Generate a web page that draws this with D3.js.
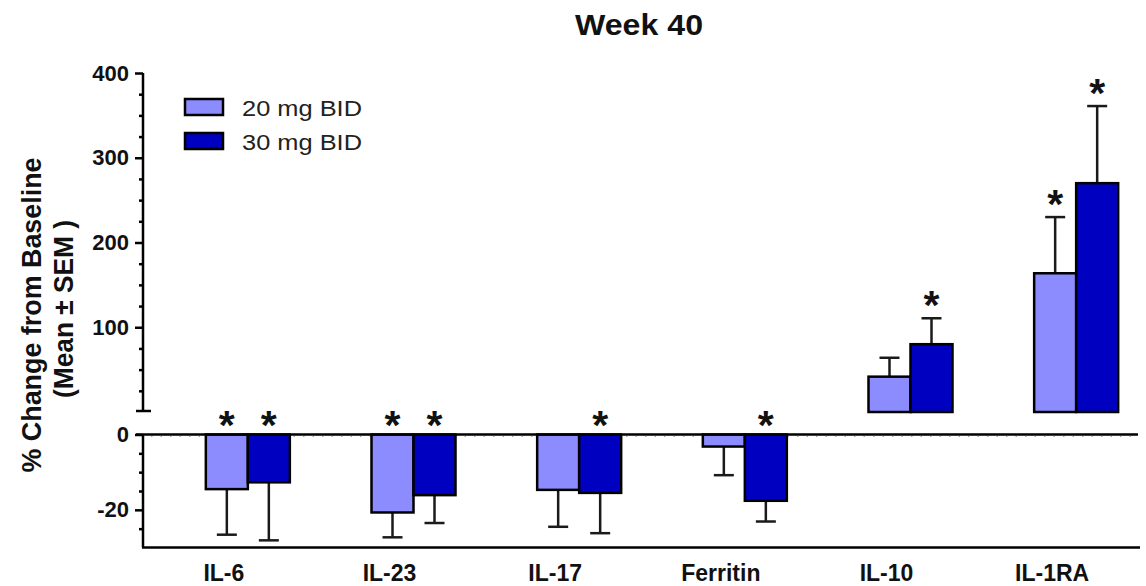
<!DOCTYPE html>
<html>
<head>
<meta charset="utf-8">
<script src="https://cdn.jsdelivr.net/npm/d3@7"></script>
<style>
  body { margin: 0; background: #fff; }
  svg { display: block; font-family: "Liberation Sans", Arial, sans-serif; }
</style>
</head>
<body>
<div id="chart"></div>
<script>
// values (% change from baseline)
const categories = ["IL-6", "IL-23", "IL-17", "Ferritin", "IL-10", "IL-1RA"];
const seriesNames = ["20 mg BID", "30 mg BID"];
const mean20 = [-14.5, -20.7, -14.7, -3.2, 41.7, 163.7];
const sem20 = [12.1, 6.6, 9.8, 7.6, 22.3, 66.3];
const mean30 = [-12.7, -16.1, -15.5, -17.6, 80, 270];
const sem30 = [15.4, 7.4, 10.7, 5.5, 30.6, 91];
const sig20 = [true, true, false, false, false, true];
const sig30 = [true, true, true, true, true, true];
const topMajor = [100, 200, 300, 400];
const topMinor = [25, 50, 75, 125, 150, 175, 225, 250, 275, 325, 350, 375];
const botMajor = [0, -20];
const botMinor = [-5, -10, -15, -25];

const colors = ["#8c8cff", "#0000c0"];
const width = 1146, height = 586;
const axisX = 143;

const svg = d3.select("#chart").append("svg")
  .attr("width", width).attr("height", height);

// split y axis: positive part on top, negative part below
const yTop = d3.scaleLinear().domain([0, 400]).range([412, 73]);
const yBot = d3.scaleLinear().domain([-30, 0]).range([547.5, 434.5]);
const yOf = v => (v >= 0 ? yTop(v) : yBot(v));
const zeroOf = v => (v >= 0 ? yTop(0) : yBot(0));

const x0 = d3.scaleBand().domain(categories).range([165, 1159]);
const x1 = d3.scaleBand().domain(seriesNames).range([0, 84]);

const rows = [];
categories.forEach((c, i) => {
  rows.push({ cat: c, s: seriesNames[0], v: mean20[i], e: sem20[i], sig: sig20[i], col: colors[0] });
  rows.push({ cat: c, s: seriesNames[1], v: mean30[i], e: sem30[i], sig: sig30[i], col: colors[1] });
});
const barX = d => x0(d.cat) + x0.bandwidth() / 2 - 42 + x1(d.s);

// dotted reference line at 0 + solid zero line
svg.append("line")
  .attr("x1", axisX + 8).attr("x2", 1134)
  .attr("y1", yBot(0) + 2).attr("y2", yBot(0) + 2)
  .attr("stroke", "#aaa").attr("stroke-width", 1)
  .attr("stroke-dasharray", "1.5,8");

// error bars
const eb = svg.append("g").attr("stroke", "#1a1a1a").attr("stroke-width", 2.5);
rows.forEach(d => {
  const cx = barX(d) + x1.bandwidth() / 2;
  const end = d.v >= 0 ? d.v + d.e : d.v - d.e;
  eb.append("line").attr("x1", cx).attr("x2", cx)
    .attr("y1", yOf(d.v)).attr("y2", yOf(end));
  eb.append("line").attr("x1", cx - 10).attr("x2", cx + 10)
    .attr("y1", yOf(end)).attr("y2", yOf(end));
});

// bars
svg.append("g").selectAll("rect")
  .data(rows)
  .join("rect")
  .attr("x", d => barX(d))
  .attr("width", x1.bandwidth())
  .attr("y", d => Math.min(yOf(d.v), zeroOf(d.v)))
  .attr("height", d => Math.abs(yOf(d.v) - zeroOf(d.v)))
  .attr("fill", d => d.col)
  .attr("stroke", "#000")
  .attr("stroke-width", 2.5);

// significance stars
svg.append("g").selectAll("text")
  .data(rows.filter(d => d.sig))
  .join("text")
  .attr("x", d => barX(d) + x1.bandwidth() / 2)
  .attr("y", d => (d.v >= 0 ? yOf(d.v + d.e) + 1 : yBot(0) + 4))
  .attr("text-anchor", "middle")
  .attr("font-size", 41)
  .attr("font-weight", "bold")
  .attr("fill", "#111")
  .text("*");

// axes
function styleAxis(g) {
  g.select(".domain").remove();
  g.selectAll("line").attr("stroke", "#000").attr("stroke-width", 2.5);
  g.selectAll("text").attr("font-family", "Liberation Sans, Arial, sans-serif")
    .attr("font-size", 22).attr("font-weight", "bold").attr("fill", "#111");
}
const fmt = d => String(d);
svg.append("g").attr("transform", `translate(${axisX},0)`)
  .call(d3.axisLeft(yTop).tickValues(topMinor).tickSize(4).tickFormat(""))
  .call(styleAxis);
svg.append("g").attr("transform", `translate(${axisX},0)`)
  .call(d3.axisLeft(yTop).tickValues(topMajor).tickSize(8).tickPadding(6).tickFormat(fmt))
  .call(styleAxis);
svg.append("g").attr("transform", `translate(${axisX},0)`)
  .call(d3.axisLeft(yBot).tickValues(botMinor).tickSize(4).tickFormat(""))
  .call(styleAxis);
svg.append("g").attr("transform", `translate(${axisX},0)`)
  .call(d3.axisLeft(yBot).tickValues(botMajor).tickSize(8).tickPadding(6).tickFormat(fmt))
  .call(styleAxis);

const ax = svg.append("g").attr("stroke", "#000").attr("stroke-width", 2.5);
ax.append("line").attr("x1", axisX).attr("x2", axisX).attr("y1", yTop(400)).attr("y2", yTop(0) - 1);
ax.append("line").attr("x1", axisX - 7).attr("x2", axisX + 8).attr("y1", yTop(0) - 1).attr("y2", yTop(0) - 1);
ax.append("line").attr("x1", axisX).attr("x2", axisX).attr("y1", yBot(0)).attr("y2", yBot(-30));
ax.append("line").attr("x1", axisX - 7).attr("x2", 1138).attr("y1", yBot(0)).attr("y2", yBot(0));
ax.append("line").attr("x1", axisX - 1).attr("x2", 1140).attr("y1", yBot(-30)).attr("y2", yBot(-30));

// category labels
svg.append("g").selectAll("text")
  .data(categories)
  .join("text")
  .attr("x", d => x0(d) + x0.bandwidth() / 2 - 24)
  .attr("y", 581)
  .attr("text-anchor", "middle")
  .attr("font-size", 23)
  .attr("font-weight", "bold")
  .attr("fill", "#111")
  .text(d => d);

// title
svg.append("text")
  .attr("x", 639).attr("y", 35)
  .attr("text-anchor", "middle")
  .attr("font-size", 29).attr("font-weight", "bold").attr("fill", "#111")
  .attr("textLength", 128).attr("lengthAdjust", "spacingAndGlyphs")
  .text("Week 40");

// y axis title, two lines
svg.append("text")
  .attr("transform", "translate(41,315) rotate(-90)")
  .attr("text-anchor", "middle")
  .attr("font-size", 27).attr("font-weight", "bold").attr("fill", "#111")
  .attr("textLength", 315).attr("lengthAdjust", "spacingAndGlyphs")
  .text("% Change from Baseline");
svg.append("text")
  .attr("transform", "translate(73,309) rotate(-90)")
  .attr("text-anchor", "middle")
  .attr("font-size", 27).attr("font-weight", "bold").attr("fill", "#111")
  .attr("textLength", 178).attr("lengthAdjust", "spacingAndGlyphs")
  .text("(Mean \u00b1 SEM )");

// legend
const leg = svg.append("g").selectAll("g")
  .data(seriesNames)
  .join("g")
  .attr("transform", (d, i) => `translate(185,${99 + i * 34})`);
leg.append("rect")
  .attr("width", 38).attr("height", 16)
  .attr("fill", (d, i) => colors[i])
  .attr("stroke", "#000").attr("stroke-width", 2.5);
leg.append("text")
  .attr("x", 57).attr("y", 16.5)
  .attr("font-size", 22).attr("fill", "#222")
  .attr("textLength", 120).attr("lengthAdjust", "spacingAndGlyphs")
  .text(d => d);
</script>
</body>
</html>
